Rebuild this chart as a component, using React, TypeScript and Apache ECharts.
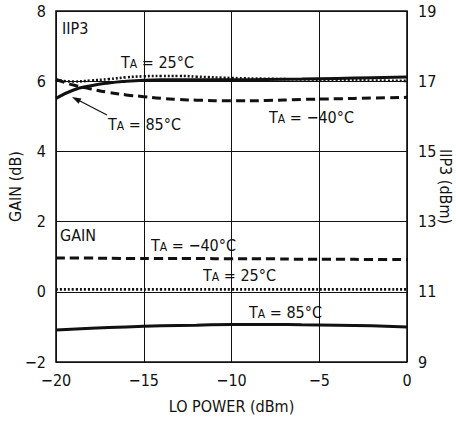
import React, { useEffect, useRef } from "react";
import * as echarts from "echarts";

const FONT = "'Liberation Sans Narrow', 'DejaVu Sans Condensed', 'Roboto Condensed', Arial, sans-serif";

// LO power (dBm) sample points
const iip3X = [-20, -19, -18, -17, -16, -15, -14, -13, -12, -10, -8, -6, -4, -2, 0];
const iip3T25 = [17.03, 16.99, 17.02, 17.06, 17.11, 17.14, 17.15, 17.15, 17.13, 17.09, 17.07, 17.05, 17.04, 17.02, 17.01];
const iip3T85 = [16.51, 16.75, 16.87, 16.95, 17.0, 17.03, 17.04, 17.04, 17.04, 17.04, 17.05, 17.06, 17.08, 17.1, 17.12];
const iip3Tm40 = [17.05, 16.89, 16.78, 16.68, 16.61, 16.56, 16.51, 16.48, 16.46, 16.44, 16.45, 16.48, 16.5, 16.52, 16.54];

const gainX = [-20, -18, -16, -14, -12, -10, -8, -6, -4, -2, 0];
const gainTm40 = [0.96, 0.96, 0.95, 0.95, 0.95, 0.94, 0.94, 0.93, 0.93, 0.92, 0.92];
const gainT25 = [0.07, 0.07, 0.07, 0.07, 0.07, 0.07, 0.07, 0.07, 0.07, 0.07, 0.07];
const gainT85 = [-1.09, -1.04, -1.0, -0.97, -0.95, -0.93, -0.93, -0.94, -0.95, -0.97, -1.0];

const xTicks = [-20, -15, -10, -5, 0];
const gainTicks = [-2, 0, 2, 4, 6, 8];
const iip3Ticks = [9, 11, 13, 15, 17, 19];

const minus = (v: number) => String(v).replace("-", "\u2212");
const pair = (xs: number[], ys: number[]) => xs.map((x, i) => [x, ys[i]]);

const solid = { color: "#111", width: 3, type: "solid" as const };
const dashed = { color: "#111", width: 3, type: [9, 5] as number[] };
const dotted = { color: "#111", width: 2.6, type: [2, 2] as number[] };

const rich = {
  t: { fontSize: 16, fontFamily: FONT, fill: "#111", verticalAlign: "bottom" as const },
  s: { fontSize: 12, fontFamily: FONT, fill: "#111", padding: [14, 0, 0, 0], verticalAlign: "bottom" as const },
};
const ta = (rest: string) => `{t|T}{s|A}{t|${rest}}`;
const label = (text: string, x: number, y: number) => ({
  type: "text",
  x,
  y,
  style: { text, rich, fill: "#111", font: `16px ${FONT}`, verticalAlign: "middle" },
});

export default function App() {
  const ref = useRef<HTMLDivElement>(null);
  useEffect(() => {
    document.body.style.margin = "0";
    const chart = echarts.init(ref.current!, null, { renderer: "svg" });
    const axisText = { color: "#111", fontSize: 16, fontFamily: FONT };
    chart.setOption({
      animation: false,
      backgroundColor: "#fff",
      grid: {
        left: 56,
        right: 49,
        top: 11,
        bottom: 59,
        show: true,
        borderColor: "#111",
        borderWidth: 1.6,
        containLabel: false,
        outerBoundsMode: "none",
      },
      xAxis: {
        type: "value",
        min: -20,
        max: 0,
        interval: 5,
        name: "LO POWER (dBm)",
        nameLocation: "middle",
        nameGap: 36,
        nameMoveOverlap: false,
        nameTextStyle: axisText,
        axisLine: { show: false },
        axisTick: { show: false },
        axisLabel: { ...axisText, margin: 10, formatter: (v: number) => (xTicks.includes(v) ? minus(v) : "") },
        splitLine: { show: true, lineStyle: { color: "#111", width: 1 } },
      },
      yAxis: [
        {
          type: "value",
          min: -2,
          max: 8,
          interval: 2,
          name: "GAIN (dB)",
          nameLocation: "middle",
          nameGap: 33,
          nameMoveOverlap: false,
          nameRotate: 90,
          nameTextStyle: axisText,
          axisLine: { show: false },
          axisTick: { show: false },
          axisLabel: { ...axisText, margin: 10, formatter: (v: number) => (gainTicks.includes(v) ? minus(v) : "") },
          splitLine: { show: true, lineStyle: { color: "#111", width: 1 } },
        },
        {
          type: "value",
          min: 9,
          max: 19,
          position: "right",
          name: "IIP3 (dBm)",
          nameLocation: "middle",
          nameGap: 30,
          nameMoveOverlap: false,
          nameRotate: -90,
          nameTextStyle: axisText,
          axisLine: { show: false },
          axisTick: { show: false },
          axisLabel: { ...axisText, margin: 11, customValues: iip3Ticks, formatter: (v: number) => String(v) },
          splitLine: { show: false },
        },
      ],
      series: [
        { type: "line", yAxisIndex: 1, smooth: true, symbol: "none", data: pair(iip3X, iip3T25), lineStyle: dotted },
        { type: "line", yAxisIndex: 1, smooth: true, symbol: "none", data: pair(iip3X, iip3Tm40), lineStyle: dashed },
        { type: "line", yAxisIndex: 1, smooth: true, symbol: "none", data: pair(iip3X, iip3T85), lineStyle: solid },
        { type: "line", yAxisIndex: 0, smooth: true, symbol: "none", data: pair(gainX, gainTm40), lineStyle: dashed },
        { type: "line", yAxisIndex: 0, smooth: true, symbol: "none", data: pair(gainX, gainT25), lineStyle: dotted },
        { type: "line", yAxisIndex: 0, smooth: true, symbol: "none", data: pair(gainX, gainT85), lineStyle: solid },
      ],
      graphic: [
        { type: "text", x: 62, y: 28, style: { text: "IIP3", fill: "#111", font: `16px ${FONT}`, verticalAlign: "middle" } },
        { type: "text", x: 60, y: 235, style: { text: "GAIN", fill: "#111", font: `16px ${FONT}`, verticalAlign: "middle" } },
        label(ta(" = 25°C"), 121, 57),
        label(ta(" = 85°C"), 108, 119),
        label(ta(" = \u221240°C"), 269, 112),
        label(ta(" = \u221240°C"), 151, 240),
        label(ta(" = 25°C"), 203, 270),
        label(ta(" = 85°C"), 249, 307),
        { type: "line", shape: { x1: 107, y1: 115, x2: 78, y2: 100 }, style: { stroke: "#111", lineWidth: 1.2 } },
        { type: "polygon", shape: { points: [[72, 97], [81.4, 98.4], [78.6, 103.8]] }, style: { fill: "#111" } },
      ],
    });
    return () => chart.dispose();
  }, []);
  return <div ref={ref} style={{ width: 456, height: 421 }} />;
}
